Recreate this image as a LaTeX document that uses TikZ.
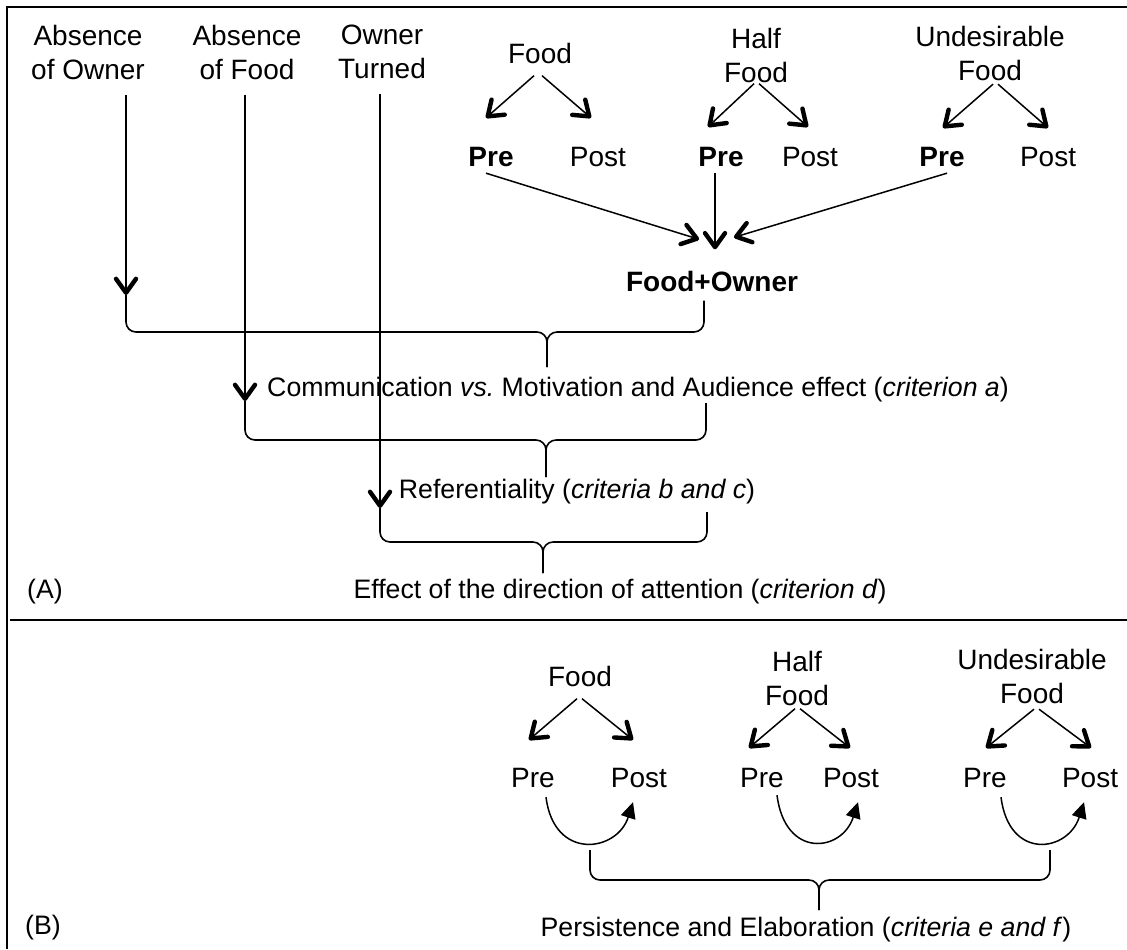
\documentclass[tikz,border=0pt]{standalone}
\usepackage{fontspec}
\setmainfont{Liberation Sans}
\usetikzlibrary{arrows.meta}

\begin{document}
\begin{tikzpicture}[x=0.5pt,y=-0.5pt,
  lbl/.style={font=\fontsize{14}{17}\selectfont,align=center,inner sep=0pt},
  bld/.style={lbl,font=\fontsize{14}{17}\selectfont\bfseries},
  crit/.style={font=\fontsize{13.35}{16}\selectfont,inner sep=0pt,text depth=0pt},
  arr/.style={line width=0.75pt,-{Straight Barb[length=7pt,width=10pt,line width'=2.2pt,round]}},
  loopar/.style={line width=0.75pt,-{Triangle[length=8pt,width=7.5pt]}},
  brc/.style={line width=0.8pt,rounded corners=5pt}]
\useasboundingbox (0,0) rectangle (1127,949);
% frame
\draw[line width=1.1pt] (1127,7) -- (7,7) -- (7,949);
\draw[line width=0.9pt] (10,620) -- (1127,620);

% (A)
\node[lbl] (own) at (88,52) {Absence\\of Owner};
\node[lbl] (food) at (247,52) {Absence\\of Food};
\node[lbl] (trn) at (382,52) {Owner\\Turned};

\node[lbl] (fA) at (540,53) {Food};
\node[lbl] (fB) at (756,55) {Half\\Food};
\node[lbl] (fC) at (990,53.5) {Undesirable\\Food};
\node[bld] (preA) at (491,157) {Pre};
\node[lbl] (postA) at (598,157) {Post};
\node[bld] (preB) at (721,157) {Pre};
\node[lbl] (postB) at (810,157) {Post};
\node[bld] (preC) at (942,157) {Pre};
\node[lbl] (postC) at (1048,157) {Post};
\node[bld] (fo) at (712,281) {Food+Owner};

\draw[arr] ([shift={(-6,12)}]fA.south) -- ([shift={(-5,-29)}]preA.north);
\draw[arr] ([shift={(2,12)}]fA.south) -- ([shift={(-7,-29)}]postA.north);
\draw[arr] ([shift={(-2,1)}]fB.south) -- ([shift={(-13,-20)}]preB.north);
\draw[arr] ([shift={(3,1)}]fB.south) -- ([shift={(-2,-20)}]postB.north);
\draw[arr] ([shift={(3,3)}]fC.south) -- ([shift={(1,-19)}]preC.north);
\draw[arr] ([shift={(8,3)}]fC.south) -- ([shift={(0,-19)}]postC.north);

\draw[arr] ([shift={(-5,6)}]preA.south) -- ([shift={(-13,-31)}]fo.north);
\draw[arr] ([shift={(-6,6)}]preB.south) -- ([shift={(3,-21)}]fo.north);
\draw[arr] ([shift={(5,6)}]preC.south) -- ([shift={(22,-33)}]fo.north);

\coordinate (t1) at (126,295);
\coordinate (t2) at (245,401);
\coordinate (t3) at (380,508);
\draw[arr,shorten <=7.5pt] (own.south -| t1) -- (t1);
\draw[arr,shorten <=7.5pt] (food.south -| t2) -- (t2);
\draw[arr,shorten <=7.5pt] (trn.south -| t3) -- (t3);

\coordinate (m1) at (547,332);
\coordinate (m2) at (546,440);
\coordinate (m3) at (543,542);
\coordinate (r1) at (704,300);
\coordinate (r2) at (706,403);
\coordinate (r3) at (707,512);
\draw[brc] (t1) |- (m1) -- ++(0,35);
\draw[brc,shorten <=4.5pt] (fo.south -| r1) |- (m1) -- ++(0,35);
\draw[brc] (t2) |- (m2) -- ++(0,37);
\draw[brc] (r2) |- (m2) -- ++(0,37);
\draw[brc] (t3) |- (m3) -- ++(0,31);
\draw[brc] (r3) |- (m3) -- ++(0,31);

\node[crit] (comm) at (638,387) {Communication \textit{vs.}\ Motivation and Audience effect (\textit{criterion a})};
\node[crit] (ref) at (577,489) {Referentiality (\textit{criteria b and c})};
\node[crit] (eff) at (620,589) {Effect of the direction of attention (\textit{criterion d})};
\node[crit] (pA) at (45,589) {(A)};

% (B)
\node[lbl] (bfA) at (580,676) {Food};
\node[lbl] (bfB) at (797,678) {Half\\Food};
\node[lbl] (bfC) at (1032,676.5) {Undesirable\\Food};
\node[lbl] (bpreA) at (533,778) {Pre};
\node[lbl] (bpostA) at (639,778) {Post};
\node[lbl] (bpreB) at (762,778) {Pre};
\node[lbl] (bpostB) at (851,778) {Post};
\node[lbl] (bpreC) at (985,778) {Pre};
\node[lbl] (bpostC) at (1090,778) {Post};

\draw[arr] ([shift={(-3,12)}]bfA.south) -- ([shift={(-4,-28)}]bpreA.north);
\draw[arr] ([shift={(2,12)}]bfA.south) -- ([shift={(-6,-28)}]bpostA.north);
\draw[arr] ([shift={(-2,3)}]bfB.south) -- ([shift={(-13,-20)}]bpreB.north);
\draw[arr] ([shift={(3,3)}]bfB.south) -- ([shift={(-1,-20)}]bpostB.north);
\draw[arr] ([shift={(2,5)}]bfC.south) -- ([shift={(1,-20)}]bpreC.north);
\draw[arr] ([shift={(7,5)}]bfC.south) -- ([shift={(1,-20)}]bpostC.north);

\draw[loopar] ([shift={(13,9)}]bpreA.south) .. controls +(8,64) and +(-16,50) .. ([shift={(-6,14)}]bpostA.south);
\draw[loopar] ([shift={(15,7)}]bpreB.south) .. controls +(8,64) and +(-16,50) .. ([shift={(7,14)}]bpostB.south);
\draw[loopar] ([shift={(16,9)}]bpreC.south) .. controls +(8,64) and +(-16,50) .. ([shift={(-6,14)}]bpostC.south);

\coordinate (lb) at (590,850);
\coordinate (rb) at (1050,850);
\coordinate (mb) at (819,880);
\draw[brc] (lb) |- (mb) -- ++(0,30);
\draw[brc] (rb) |- (mb) -- ++(0,30);

\node[crit] (pers) at (806,927) {Persistence and Elaboration (\textit{criteria e and f})};
\node[crit] (pB) at (43,925) {(B)};
\end{tikzpicture}
\end{document}
